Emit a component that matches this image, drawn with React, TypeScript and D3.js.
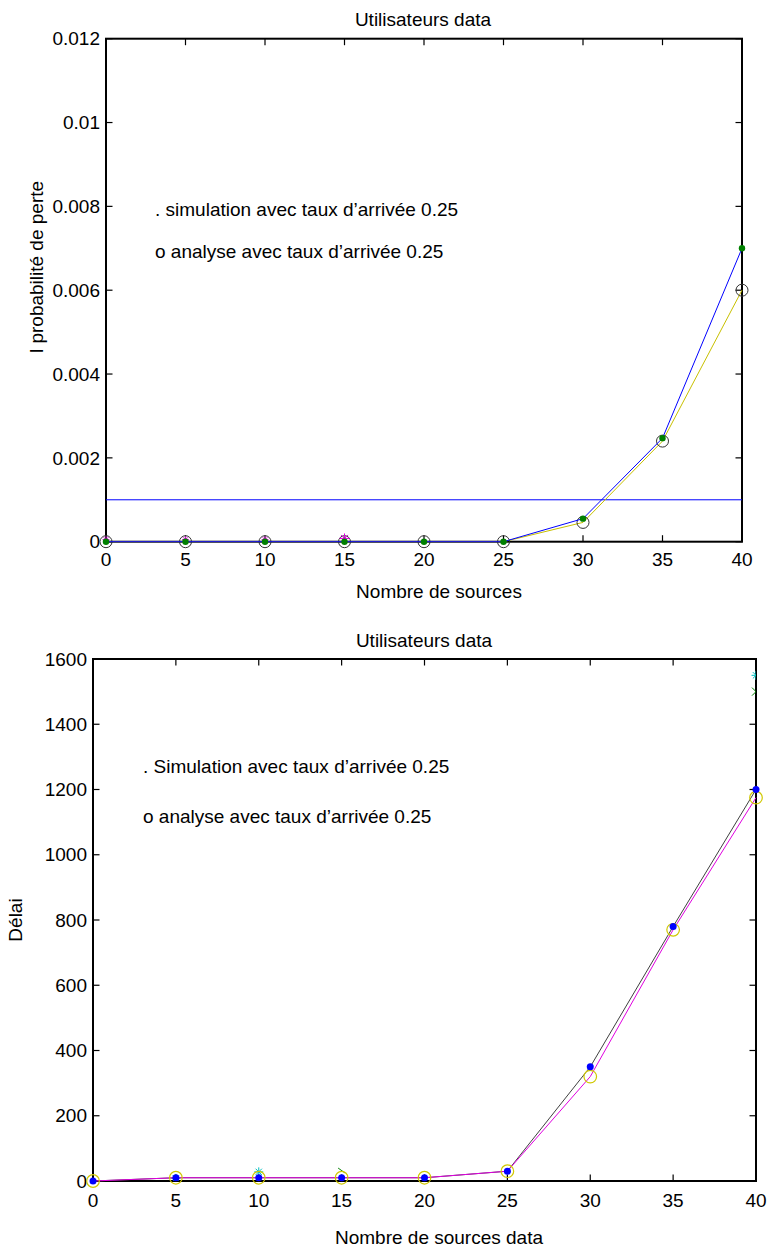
import React from "react";
import * as d3 from "d3";

// ---------- data ----------
const sources = [0, 5, 10, 15, 20, 25, 30, 35, 40];
const xTicks = [0, 5, 10, 15, 20, 25, 30, 35, 40];

// top panel: loss probability
const topYTicks = [0, 0.002, 0.004, 0.006, 0.008, 0.01, 0.012];
const topYTickLabels = ["0", "0.002", "0.004", "0.006", "0.008", "0.01", "0.012"];
const lossSimulation = [0, 0, 0, 0, 0, 0, 0.00055, 0.00247, 0.007];
const lossAnalysis = [0, 0, 0, 0, 0, 0, 0.00046, 0.0024, 0.006];
const lossThreshold = 0.001;
const lossStarX = [0, 5, 10, 15];
const lossStarY = [0, 0, 0, 0.00003];

// bottom panel: delay
const botYTicks = [0, 200, 400, 600, 800, 1000, 1200, 1400, 1600];
const delaySimulation = [0, 10, 10, 10, 10, 30, 350, 780, 1200];
const delayAnalysis = [0, 10, 10, 10, 10, 30, 320, 770, 1175];
const delayCyanX = [5, 10, 40];
const delayCyanY = [8, 28, 1550];
const delayGreenX = [40];
const delayGreenY = [1500];
const delayGreenSlashX = [15];
const delayGreenSlashY = [32];

const FONT = "'Liberation Sans', Arial, Helvetica, sans-serif";
const FS = 19;

function Asterisk({ x, y, r, color }: { x: number; y: number; r: number; color: string }) {
  const d = r * 0.7;
  return (
    <g stroke={color} strokeWidth={1}>
      <line x1={x - r} y1={y} x2={x + r} y2={y} />
      <line x1={x} y1={y - r} x2={x} y2={y + r} />
      <line x1={x - d} y1={y - d} x2={x + d} y2={y + d} />
      <line x1={x - d} y1={y + d} x2={x + d} y2={y - d} />
    </g>
  );
}

function Frame({
  x, y, yTicks, yLabels, tickLen, xLabelDy,
}: {
  x: d3.ScaleLinear<number, number>;
  y: d3.ScaleLinear<number, number>;
  yTicks: number[];
  yLabels: string[];
  tickLen: number;
  xLabelDy: number;
}) {
  const [x0, x1] = x.range();
  const [y0, y1] = y.range(); // y0 bottom, y1 top
  return (
    <g>
      <rect x={x0} y={y1} width={x1 - x0} height={y0 - y1} fill="none" stroke="#000" strokeWidth={2} />
      {xTicks.map((t) => (
        <g key={"xt" + t}>
          <line x1={x(t)} x2={x(t)} y1={y0} y2={y0 - tickLen} stroke="#000" strokeWidth={1.2} />
          <line x1={x(t)} x2={x(t)} y1={y1} y2={y1 + tickLen} stroke="#000" strokeWidth={1.2} />
          <text x={x(t)} y={y0 + xLabelDy} textAnchor="middle" fontFamily={FONT} fontSize={FS}>
            {t}
          </text>
        </g>
      ))}
      {yTicks.map((t, i) => (
        <g key={"yt" + t}>
          <line x1={x0} x2={x0 + tickLen} y1={y(t)} y2={y(t)} stroke="#000" strokeWidth={1.2} />
          <line x1={x1} x2={x1 - tickLen} y1={y(t)} y2={y(t)} stroke="#000" strokeWidth={1.2} />
          <text x={x0 - 6} y={y(t)} dy="0.35em" textAnchor="end" fontFamily={FONT} fontSize={FS}>
            {yLabels[i]}
          </text>
        </g>
      ))}
    </g>
  );
}

export default function App() {
  // ---------- top panel ----------
  const tx = d3.scaleLinear().domain([0, 40]).range([106, 742]);
  const ty = d3.scaleLinear().domain([0, 0.012]).range([541.7, 38.7]);
  const topLine = d3
    .line<number>()
    .x((_, i) => tx(sources[i]))
    .y((d) => ty(d));

  // ---------- bottom panel ----------
  const bx = d3.scaleLinear().domain([0, 40]).range([93, 756]);
  const by = d3.scaleLinear().domain([0, 1600]).range([1181, 659]);
  const botLine = d3
    .line<number>()
    .x((_, i) => bx(sources[i]))
    .y((d) => by(d));

  return (
    <svg
      width={770}
      height={1250}
      style={{ position: "absolute", left: 0, top: 0, background: "#fff" }}
    >
      <defs>
        <clipPath id="clipBot">
          <rect x={93} y={659} width={663} height={522} />
        </clipPath>
      </defs>

      {/* ===== top panel ===== */}
      <text x={423} y={26} textAnchor="middle" fontFamily={FONT} fontSize={FS}>
        Utilisateurs data
      </text>
      <text x={155} y={216} fontFamily={FONT} fontSize={FS}>
        . simulation avec taux d’arrivée 0.25
      </text>
      <text x={155} y={258} fontFamily={FONT} fontSize={FS}>
        o analyse avec taux d’arrivée 0.25
      </text>
      <text
        transform={`translate(43, 267) rotate(-90)`}
        textAnchor="middle"
        fontFamily={FONT}
        fontSize={FS}
      >
        l probabilité de perte
      </text>
      <text x={439} y={598} textAnchor="middle" fontFamily={FONT} fontSize={FS}>
        Nombre de sources
      </text>

      <Frame x={tx} y={ty} yTicks={topYTicks} yLabels={topYTickLabels} tickLen={6.5} xLabelDy={24} />

      <line x1={tx(0)} x2={tx(40)} y1={ty(lossThreshold)} y2={ty(lossThreshold)} stroke="#0000ff" strokeWidth={1} />
      <path d={topLine(lossAnalysis) || ""} fill="none" stroke="#c8c000" strokeWidth={1} />
      {lossAnalysis.map((v, i) => (
        <circle key={"ta" + i} cx={tx(sources[i])} cy={ty(v)} r={6} fill="none" stroke="#333" strokeWidth={1} />
      ))}
      {lossStarX.map((sx, i) => (
        <Asterisk key={"ts" + i} x={tx(sx)} y={ty(lossStarY[i]) - 2} r={i === 3 ? 5 : 3.5} color="#e000e0" />
      ))}
      <path d={topLine(lossSimulation) || ""} fill="none" stroke="#0000ff" strokeWidth={1} />
      {lossSimulation.map((v, i) => (
        <circle key={"tsim" + i} cx={tx(sources[i])} cy={ty(v)} r={3.2} fill="#008000" />
      ))}

      {/* ===== bottom panel ===== */}
      <text x={424} y={647} textAnchor="middle" fontFamily={FONT} fontSize={FS}>
        Utilisateurs data
      </text>
      <text x={143} y={773} fontFamily={FONT} fontSize={FS}>
        . Simulation avec taux d’arrivée 0.25
      </text>
      <text x={143} y={823} fontFamily={FONT} fontSize={FS}>
        o analyse avec taux d’arrivée 0.25
      </text>
      <text
        transform={`translate(22, ${(659 + 1181) / 2}) rotate(-90)`}
        textAnchor="middle"
        fontFamily={FONT}
        fontSize={FS}
      >
        Délai
      </text>
      <text x={439} y={1244} textAnchor="middle" fontFamily={FONT} fontSize={FS}>
        Nombre de sources data
      </text>

      <Frame x={bx} y={by} yTicks={botYTicks} yLabels={botYTicks.map(String)} tickLen={6.5} xLabelDy={26} />

      <g clipPath="url(#clipBot)">
        {delayCyanX.map((cx, i) => (
          <Asterisk key={"bc" + i} x={bx(cx)} y={by(delayCyanY[i])} r={4.5} color="#00c0c0" />
        ))}
        {delayGreenX.map((gx, i) => (
          <g key={"bg" + i} stroke="#008000" strokeWidth={1}>
            <line x1={bx(gx) - 4} y1={by(delayGreenY[i]) - 4} x2={bx(gx) + 4} y2={by(delayGreenY[i]) + 4} />
            <line x1={bx(gx) - 4} y1={by(delayGreenY[i]) + 4} x2={bx(gx) + 4} y2={by(delayGreenY[i]) - 4} />
          </g>
        ))}
        {delayGreenSlashX.map((gx, i) => (
          <line
            key={"bgs" + i}
            x1={bx(gx) - 3.5}
            y1={by(delayGreenSlashY[i]) - 2.5}
            x2={bx(gx) + 3.5}
            y2={by(delayGreenSlashY[i]) + 2.5}
            stroke="#008000"
            strokeWidth={1}
          />
        ))}
      </g>
      <path d={botLine(delaySimulation) || ""} fill="none" stroke="#404040" strokeWidth={1} />
      <path d={botLine(delayAnalysis) || ""} fill="none" stroke="#e000e0" strokeWidth={1} />
      {delayAnalysis.map((v, i) => (
        <circle key={"ba" + i} cx={bx(sources[i])} cy={by(v)} r={6.3} fill="none" stroke="#d0c800" strokeWidth={1.2} />
      ))}
      {delaySimulation.map((v, i) => (
        <circle key={"bs" + i} cx={bx(sources[i])} cy={by(v)} r={3.5} fill="#0000ff" />
      ))}
    </svg>
  );
}
